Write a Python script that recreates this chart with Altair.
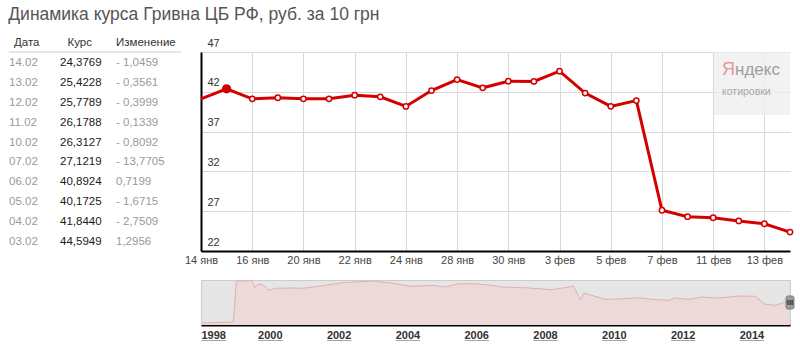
import altair as alt
import pandas as pd

FONT = "Liberation Sans, Arial, sans-serif"

title_text = "Динамика курса Гривна ЦБ РФ, руб. за 10 грн"

# main chart
day_labels = ["14 янв", "15 янв", "16 янв", "17 янв", "20 янв", "21 янв", "22 янв", "23 янв",
              "24 янв", "27 янв", "28 янв", "29 янв", "30 янв", "31 янв", "3 фев", "4 фев",
              "5 фев", "6 фев", "7 фев", "10 фев", "11 фев", "12 фев", "13 фев", "14 фев"]
rates = [41.1, 42.37, 41.12, 41.25, 41.12, 41.12, 41.58, 41.37,
         40.16, 42.16, 43.54, 42.5, 43.33, 43.2993, 44.5949, 41.8440,
         40.1725, 40.8924, 27.1219, 26.3127, 26.1788, 25.7789, 25.4228, 24.3769]
y_ticks = [22, 27, 32, 37, 42, 47]

# table
table_headers = ["Дата", "Курс", "Изменение"]
table_dates = ["14.02", "13.02", "12.02", "11.02", "10.02", "07.02", "06.02", "05.02", "04.02", "03.02"]
table_rates = [24.3769, 25.4228, 25.7789, 26.1788, 26.3127, 27.1219, 40.8924, 40.1725, 41.8440, 44.5949]
table_changes = [-1.0459, -0.3561, -0.3999, -0.1339, -0.8092, -13.7705, 0.7199, -1.6715, -2.7509, 1.2956]

# navigator
nav_dates = ["1998-01-01", "1998-12-10", "1999-01-10", "1999-02-05", "1999-06-25", "1999-07-30",
             "1999-09-05", "1999-10-27", "1999-12-28", "2000-02-28", "2000-08-25", "2000-12-10",
             "2001-06-01", "2002-02-05", "2002-12-20", "2003-07-20", "2004-02-17", "2004-09-20",
             "2005-02-03", "2005-06-28", "2005-12-20", "2006-06-16", "2006-10-01", "2007-06-03",
             "2008-03-15", "2008-09-08", "2008-10-30", "2009-01-12", "2009-02-18", "2009-05-15",
             "2009-10-01", "2010-05-01", "2010-09-20", "2011-02-10", "2011-08-08", "2011-10-15",
             "2012-03-08", "2012-07-25", "2013-01-18", "2013-08-20", "2014-02-10", "2014-04-05",
             "2014-05-25", "2014-09-12", "2014-12-28", "2015-02-14"]
nav_values = [2.6, 3.8, 54.9, 56.2, 57.1, 47.6,
              52.7, 50.7, 44.3, 46.9, 47.3, 46.9,
              49.4, 54.0, 56.2, 53.6, 49.4, 50.7,
              48.5, 52.7, 52.7, 50.7, 48.5, 47.6,
              45.1, 48.5, 49.8, 32.3, 40.9, 37.9,
              32.8, 33.6, 34.9, 32.8, 31.5, 34.5,
              32.8, 35.8, 34.5, 37.0, 36.7, 31.5,
              26.4, 25.2, 29.4, 28.1]
nav_years = [1998, 2000, 2002, 2004, 2006, 2008, 2010, 2012, 2014]

RED = "#d40000"
W_MAIN, H_MAIN = 589, 199
W_TABLE = 172
H_NAV = 45


def fmt_num(v):
    return f"{abs(v):.4f}".replace(".", ",")


def fmt_change(v):
    return ("- " if v < 0 else "\u2002") + fmt_num(v)


# ---------------- table panel ----------------
rows = []
for c, h in enumerate(table_headers):
    rows.append({"row": 0, "col": h, "text": h, "kind": "header" if c < 2 else "header2"})
for r, (d, v, ch) in enumerate(zip(table_dates, table_rates, table_changes), start=1):
    rows.append({"row": r, "col": table_headers[0], "text": d, "kind": "date"})
    rows.append({"row": r, "col": table_headers[1], "text": fmt_num(v), "kind": "rate"})
    rows.append({"row": r, "col": table_headers[2], "text": fmt_change(ch), "kind": "change"})
table_df = pd.DataFrame(rows)

tx = alt.X("col:N", scale=alt.Scale(type="point", domain=table_headers, range=[0, 107], padding=0), axis=None)
ty = alt.Y("row:O", scale=alt.Scale(type="point", domain=list(range(11)), padding=0), axis=None)
tbase = alt.Chart(table_df).encode(x=tx, y=ty, text="text:N")


def ttext(kind, color, dx):
    return tbase.transform_filter(alt.datum.kind == kind).mark_text(
        align="left", baseline="middle", font=FONT, fontSize=11.5, color=color, dx=dx, dy=-9)


table_rule = alt.Chart(pd.DataFrame({"a": [0]})).mark_rule(color="#dedede", strokeWidth=1.5).encode(
    x=alt.value(0), x2=alt.value(W_TABLE), y=alt.value(0))

table = alt.layer(
    table_rule,
    ttext("header", "#333333", 5),
    ttext("header2", "#333333", 0),
    ttext("date", "#9a9a9a", 0),
    ttext("rate", "#1a1a1a", -2.5),
    ttext("change", "#9a9a9a", 0),
).properties(width=W_TABLE, height=H_MAIN)

# ---------------- main panel ----------------
main_df = pd.DataFrame({"i": list(range(len(day_labels))), "day": day_labels, "rate": rates})

mx = alt.X("day:N", sort=day_labels, scale=alt.Scale(type="point", padding=0),
           axis=alt.Axis(values=day_labels[::2], title=None, ticks=False, labelPadding=3,
                         labelAngle=0, labelFont=FONT, labelFontSize=11, labelColor="#444444",
                         domainColor="#000000", domainWidth=2, grid=True, gridColor="#d9d9d9"))
my = alt.Y("rate:Q", scale=alt.Scale(domain=[22, 47], nice=False, zero=False),
           axis=alt.Axis(values=y_ticks, title=None, ticks=False, labelAlign="left", labelPadding=-6,
                         labelBaseline="bottom", labelOffset=-4, labelFont=FONT, labelFontSize=11,
                         labelColor="#333333", domainColor="#000000", domainWidth=2,
                         grid=True, gridColor="#d9d9d9"))

mbase = alt.Chart(main_df).encode(x=mx, y=my)
line = mbase.mark_line(color=RED, strokeWidth=3)
pts = mbase.transform_filter(alt.datum.i > 0).mark_circle(
    fill="white", stroke=RED, strokeWidth=1.5, size=28, opacity=1)
hl = mbase.transform_filter(alt.datum.i == 1).mark_circle(color=RED, size=85, opacity=1)

one = pd.DataFrame({"a": [0]})
LOGO_FONT = "Liberation Sans Narrow, Liberation Sans, Arial"
logo_box = alt.Chart(one).mark_rect(fill="#eeeeee", opacity=0.75).encode(
    x=alt.value(513), x2=alt.value(W_MAIN), y=alt.value(0), y2=alt.value(63))
logo_ya = alt.Chart(one).mark_text(text="Я", align="left", baseline="middle", font=LOGO_FONT,
                                   fontSize=18, color="#e59a9a").encode(x=alt.value(521), y=alt.value(18))
logo_rest = alt.Chart(one).mark_text(text="ндекс", align="left", baseline="middle", font=LOGO_FONT,
                                     fontSize=17, color="#9d9d9d").encode(x=alt.value(534), y=alt.value(18))
logo_sub = alt.Chart(one).mark_text(text="котировки", align="left", baseline="middle", font=FONT,
                                    fontSize=10.5, color="#a8a8a8").encode(
    x=alt.value(521), y=alt.value(40))

main = alt.layer(logo_box, logo_ya, logo_rest, logo_sub, line, pts, hl).properties(
    width=W_MAIN, height=H_MAIN)

# ---------------- spacer ----------------
spacer = alt.Chart(one).mark_point(opacity=0).encode(
    x=alt.X("a:Q", axis=None), y=alt.Y("a:Q", axis=None)).properties(width=W_TABLE, height=H_NAV)

# ---------------- navigator ----------------
nav_df = pd.DataFrame({"date": nav_dates, "value": nav_values})
year_vals = [alt.DateTime(year=y, month=1, date=1) for y in nav_years]
nav_scale = alt.Scale(domain=[alt.DateTime(year=1998, month=1, date=1),
                              alt.DateTime(year=2015, month=2, date=14)])
axis_common = dict(values=year_vals, title=None, ticks=False, grid=False, labelFlush=True,
                   labelPadding=4, labelFont=FONT, labelFontSize=11, labelFontWeight="bold",
                   labelColor="#333333", orient="bottom", labelOverlap=False)

nav_area = alt.Chart(nav_df).mark_area(
    fill="#ecd9d9", opacity=1, line={"color": "#e0b0b0", "strokeWidth": 1}).encode(
    x=alt.X("date:T", scale=nav_scale,
            axis=alt.Axis(format="%Y", domainColor="#000000", domainWidth=2, **axis_common)),
    y=alt.Y("value:Q", scale=alt.Scale(domain=[0, 57.5], nice=False), axis=None))
nav_under = alt.Chart(nav_df).mark_point(opacity=0).encode(
    x=alt.X("date:T", scale=nav_scale,
            axis=alt.Axis(labelExpr="'____'", domain=False, **axis_common)),
    y=alt.Y("value:Q", scale=alt.Scale(domain=[0, 57.5], nice=False), axis=None))
handle = alt.Chart(one).mark_rect(fill="#9c9c9c", stroke="#7a7a7a", cornerRadius=2).encode(
    x=alt.value(585), x2=alt.value(593), y=alt.value(16), y2=alt.value(29))
handle_t = alt.Chart(one).mark_text(text="III", font=FONT, fontSize=8, fontWeight="bold",
                                    color="#333333", baseline="middle", align="center").encode(
    x=alt.value(589), y=alt.value(22.5))

nav = alt.layer(nav_area, nav_under, handle, handle_t).resolve_axis(x="independent").properties(
    width=W_MAIN, height=H_NAV, view=alt.ViewBackground(fill="#e6e6e6", stroke="#cccccc"))

chart = alt.concat(table, main, spacer, nav, columns=2, spacing={"row": 12, "column": 2}).properties(
    title=alt.TitleParams(title_text, anchor="start", font=FONT, fontSize=17.5, fontWeight="normal",
                          color="#555555", offset=14),
    padding={"left": 8, "top": 5, "right": 0, "bottom": 0},
    background="white",
).configure_view(stroke=None)

chart.save("out.html", embed_options={"renderer": "svg", "actions": False})
